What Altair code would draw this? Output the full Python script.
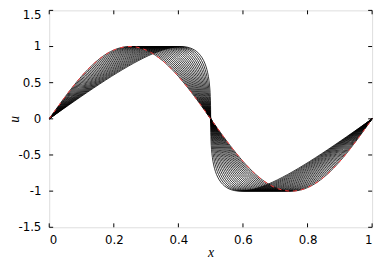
import altair as alt
import pandas as pd

# initial profile u0(x0) (step 0.01 in x)
x0 = [round(i * 0.01, 2) for i in range(101)]
u0 = [0.0, 0.0628, 0.1253, 0.1874, 0.2487, 0.3090, 0.3681, 0.4258, 0.4818, 0.5358,
      0.5878, 0.6374, 0.6845, 0.7290, 0.7705, 0.8090, 0.8443, 0.8763, 0.9048, 0.9298,
      0.9511, 0.9686, 0.9823, 0.9921, 0.9980, 1.0, 0.9980, 0.9921, 0.9823, 0.9686,
      0.9511, 0.9298, 0.9048, 0.8763, 0.8443, 0.8090, 0.7705, 0.7290, 0.6845, 0.6374,
      0.5878, 0.5358, 0.4818, 0.4258, 0.3681, 0.3090, 0.2487, 0.1874, 0.1253, 0.0628,
      0.0, -0.0628, -0.1253, -0.1874, -0.2487, -0.3090, -0.3681, -0.4258, -0.4818, -0.5358,
      -0.5878, -0.6374, -0.6845, -0.7290, -0.7705, -0.8090, -0.8443, -0.8763, -0.9048, -0.9298,
      -0.9511, -0.9686, -0.9823, -0.9921, -0.9980, -1.0, -0.9980, -0.9921, -0.9823, -0.9686,
      -0.9511, -0.9298, -0.9048, -0.8763, -0.8443, -0.8090, -0.7705, -0.7290, -0.6845, -0.6374,
      -0.5878, -0.5358, -0.4818, -0.4258, -0.3681, -0.3090, -0.2487, -0.1874, -0.1253, -0.0628,
      0.0]

# shift of each black curve (peak moves from x=0.25 to about x=0.41)
times = [0.0, 0.0079, 0.0158, 0.0237, 0.0316, 0.0395, 0.0474, 0.0553, 0.0632, 0.0711,
         0.079, 0.0869, 0.0948, 0.1027, 0.1106, 0.1185, 0.1264, 0.1343, 0.1422, 0.1501, 0.158]

x_ticks = [0, 0.2, 0.4, 0.6, 0.8, 1]
y_ticks = [-1.5, -1, -0.5, 0, 0.5, 1, 1.5]
y_labels = ["-1.5", "-1", "-0.5", "0", "0.5", "1", "1.5"]

rows = []
for c, t in enumerate(times):
    for i, (a, b) in enumerate(zip(x0, u0)):
        rows.append({"curve": c, "i": i, "x": a + t * b, "u": b})
curves = pd.DataFrame(rows)
init = pd.DataFrame({"i": list(range(len(x0))), "x": x0, "u": u0})
xt = pd.DataFrame({"x": x_ticks})
yt = pd.DataFrame({"u": y_ticks, "lab": y_labels})

W, H = 329, 221
xs = alt.Scale(domain=[0, 1], nice=False, zero=False)
ys = alt.Scale(domain=[-1.5, 1.5], nice=False, zero=False)

xaxis = alt.Axis(values=x_ticks, labelExpr="toString(datum.value)", tickSize=0,
                 domain=False, grid=False, labelFont="DejaVu Sans", labelFontSize=12,
                 labelColor="black", labelPadding=8, labelOverlap=False, title="x",
                 titleFont="Liberation Serif", titleFontStyle="italic",
                 titleFontWeight="normal", titleFontSize=14, titleColor="black",
                 titleX=164.5, titleY=30, titleBaseline="alphabetic", titleAlign="center")
yaxis = alt.Axis(values=y_ticks, labels=False, tickSize=0, domain=False, grid=False,
                 title="u", titleFont="Liberation Serif", titleFontStyle="italic",
                 titleFontWeight="normal", titleFontSize=14, titleColor="black",
                 titleAngle=270, titleX=-31, titleY=110.5, titleBaseline="alphabetic",
                 titleAlign="center")

lines = alt.Chart(curves).mark_line(color="black", strokeWidth=0.8).encode(
    x=alt.X("x:Q", scale=xs, axis=xaxis),
    y=alt.Y("u:Q", scale=ys, axis=yaxis),
    detail="curve:N",
    order="i:Q",
)
red = alt.Chart(init).mark_line(color="#ff3b3b", strokeWidth=1, strokeDash=[4, 4]).encode(
    x="x:Q", y="u:Q", order="i:Q"
)
tb = alt.Chart(xt).mark_rule(color="black").encode(x="x:Q", y=alt.value(H), y2=alt.value(H - 4))
tt = alt.Chart(xt).mark_rule(color="black").encode(x="x:Q", y=alt.value(0), y2=alt.value(4))
tl = alt.Chart(yt).mark_rule(color="black").encode(y="u:Q", x=alt.value(0), x2=alt.value(4))
tr = alt.Chart(yt).mark_rule(color="black").encode(y="u:Q", x=alt.value(W), x2=alt.value(W - 4))

ylab = alt.Chart(yt).transform_filter("datum.u < 1.5").mark_text(
    align="right", baseline="middle", font="DejaVu Sans", fontSize=12, color="black", dx=-8
).encode(y="u:Q", x=alt.value(0), text="lab:N")
ylab_top = alt.Chart(yt).transform_filter("datum.u == 1.5").mark_text(
    align="right", baseline="top", font="DejaVu Sans", fontSize=12, color="black", dx=-8, dy=0
).encode(y="u:Q", x=alt.value(0), text="lab:N")

chart = alt.layer(lines, red, tb, tt, tl, tr, ylab, ylab_top).properties(
    width=W, height=H,
    autosize=alt.AutoSizeParams(type="none"),
    padding={"left": 42, "top": 0, "right": 6, "bottom": 36},
).configure_view(stroke="black", strokeWidth=1).configure(background="white")

chart.save("out.html", embed_options={"renderer": "svg", "actions": False})
